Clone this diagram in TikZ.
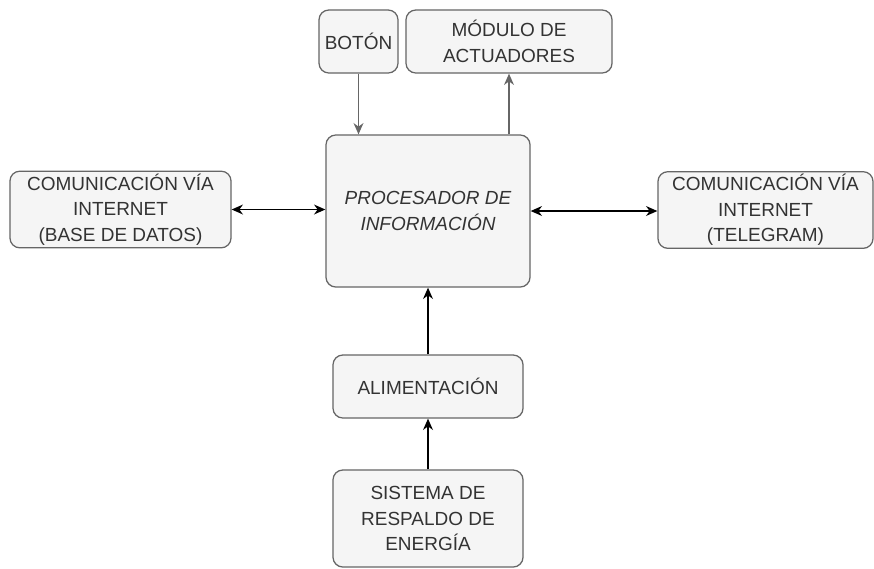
\documentclass[tikz,border=0pt]{standalone}
\usepackage{fontspec}
\setmainfont{Liberation Sans}
\usepackage{xcolor}
\usepackage{tikz}
\usetikzlibrary{arrows.meta,positioning,calc}

\definecolor{boxfill}{HTML}{F5F5F5}
\definecolor{boxline}{HTML}{666666}
\definecolor{boxtext}{HTML}{333333}

\begin{document}
\begin{tikzpicture}[
  x=0.025cm, y=-0.025cm,
  blk/.style={draw=boxline, fill=boxfill, rounded corners=7pt, align=center,
              text=boxtext, line width=0.9pt, inner sep=2pt,
              font=\fontsize{13.5}{18}\selectfont},
  arr/.style={-{Stealth[length=8pt, width=7pt, inset=2.5pt]}, line width=1pt},
  garr/.style={arr, draw=boxline, -{Stealth[length=8pt, width=7pt, inset=2.5pt, fill=boxline]}},
  darr/.style={{Stealth[length=8pt, width=7pt, inset=2.5pt]}-{Stealth[length=8pt, width=7pt, inset=2.5pt]}, line width=1pt}
]
\useasboundingbox (0,0) rectangle (874,568);
\node[blk, minimum width=5.1cm, minimum height=3.8cm] (proc) at (428,211)
  {\itshape PROCESADOR DE\\\itshape INFORMACIÓN};
\node[blk, minimum width=1.975cm, minimum height=1.575cm] (boton) at (358.5,41.5) {BOTÓN};
\node[blk, minimum width=5.15cm, minimum height=1.575cm] (modulo) at (509,41.5) {MÓDULO DE\\ACTUADORES};
\node[blk, minimum width=5.525cm, minimum height=1.875cm] (inetbd) at (120.5,209.5)
  {COMUNICACIÓN VÍA\\INTERNET\\(BASE DE DATOS)};
\node[blk, minimum width=5.375cm, minimum height=1.85cm] (inettg) at (765.5,210)
  {COMUNICACIÓN VÍA\\INTERNET\\(TELEGRAM)};
\node[blk, minimum width=4.75cm, minimum height=1.575cm] (alim) at (428,386.5) {ALIMENTACIÓN};
\node[blk, minimum width=4.75cm, minimum height=2.425cm] (resp) at (428,518.5)
  {SISTEMA DE\\RESPALDO DE\\ENERGÍA};

\draw[garr] (boton.south) -- (boton.south |- proc.north);
\draw[garr] (proc.north -| modulo.south) -- (modulo.south);
\draw[darr] (inetbd.east) -- (inetbd.east -| proc.west);
\draw[darr] (proc.east) -- (proc.east -| inettg.west);
\draw[arr] (alim.north) -- (proc.south);
\draw[arr] (resp.north) -- (alim.south);
\end{tikzpicture}
\end{document}
